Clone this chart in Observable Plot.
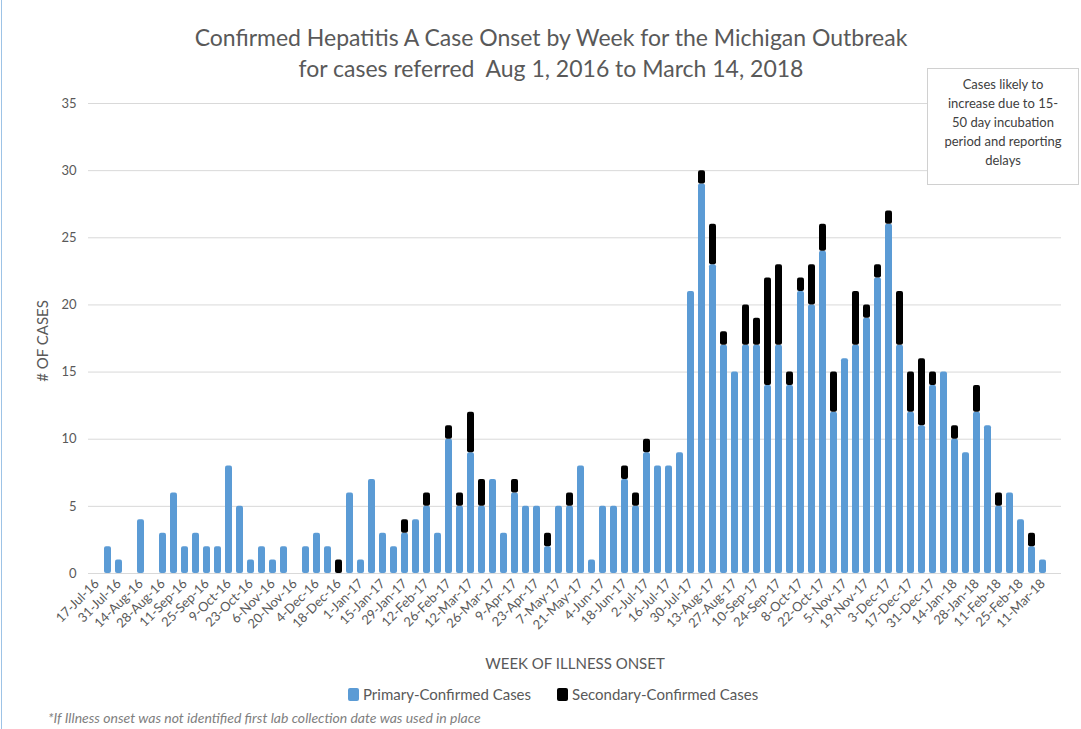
<!DOCTYPE html>
<html><head><meta charset="utf-8">
<script src="https://cdn.jsdelivr.net/npm/d3@7"></script>
<script src="https://cdn.jsdelivr.net/npm/@observablehq/plot@0.6"></script>
<style>
body{margin:0;background:#fff;font-family:Lato,"Open Sans",sans-serif;color:#595959}
#wrap{position:relative;width:1081px;height:729px;overflow:hidden;background:#fff}
#border{position:absolute;left:1px;top:0;width:1px;height:729px;background:#9dc3e6}
#chart{position:absolute;left:0;top:0}
#title{position:absolute;left:0;width:1102px;top:22px;text-align:center;font-size:23px;line-height:31px;color:#595959}
#note{position:absolute;left:927px;top:68px;width:152px;height:117px;border:1px solid #d0d0d0;box-sizing:border-box;background:#fff;text-align:center;font-size:13px;line-height:19px;padding-top:6px;color:#404040}
#ylab{position:absolute;left:42px;top:341px;transform:translate(-50%,-50%) rotate(-90deg);font-size:15px;white-space:nowrap}
#xlab{position:absolute;left:575px;top:654px;transform:translateX(-50%);font-size:15px;white-space:nowrap}
#legend{position:absolute;left:348px;top:685px;font-size:15px;white-space:nowrap;display:flex;align-items:center}
#legend span.sw{display:inline-block;width:11px;height:13px;border-radius:2px;margin-right:4px}
#legend span.it{display:inline-flex;align-items:center;margin-right:26px}
#foot{position:absolute;left:48px;top:709px;font-size:14px;font-style:italic;color:#7f7f7f;white-space:nowrap}
</style></head>
<body><div id="wrap">
<div id="border"></div>
<div id="chart"></div>
<div id="title">Confirmed Hepatitis A Case Onset by Week for the Michigan Outbreak<br>for cases referred&nbsp; Aug 1, 2016 to March 14, 2018</div>
<div id="note">Cases likely to<br>increase due to 15-<br>50 day incubation<br>period and reporting<br>delays</div>
<div id="ylab"># OF CASES</div>
<div id="xlab">WEEK OF ILLNESS ONSET</div>
<div id="legend"></div>
<div id="foot">*If Illness onset was not identified first lab collection date was used in place</div>
</div>
<script>
// Weekly counts, 17-Jul-16 .. 11-Mar-18 (87 weeks)
const primary = [
  0,2,1,0,4,0,3,6,2,3,
  2,2,8,5,1,2,1,2,0,2,
  3,2,0,6,1,7,3,2,3,4,
  5,3,10,5,9,5,7,3,6,5,
  5,2,5,5,8,1,5,5,7,5,
  9,8,8,9,21,29,23,17,15,17,
  17,14,17,14,21,20,24,12,16,17,
  19,22,26,17,12,11,14,15,10,9,
  12,11,5,6,4,2,1
];
const secondary = [
  0,0,0,0,0,0,0,0,0,0,
  0,0,0,0,0,0,0,0,0,0,
  0,0,1,0,0,0,0,0,1,0,
  1,0,1,1,3,2,0,0,1,0,
  0,1,0,1,0,0,0,0,1,1,
  1,0,0,0,0,1,3,1,0,3,
  2,8,6,1,1,3,2,3,0,4,
  1,1,1,4,3,5,1,0,1,0,
  2,0,1,0,0,1,0
];
const tickLabels = ["17-Jul-16","31-Jul-16","14-Aug-16","28-Aug-16","11-Sep-16","25-Sep-16","9-Oct-16","23-Oct-16","6-Nov-16","20-Nov-16","4-Dec-16","18-Dec-16","1-Jan-17","15-Jan-17","29-Jan-17","12-Feb-17","26-Feb-17","12-Mar-17","26-Mar-17","9-Apr-17","23-Apr-17","7-May-17","21-May-17","4-Jun-17","18-Jun-17","2-Jul-17","16-Jul-17","30-Jul-17","13-Aug-17","27-Aug-17","10-Sep-17","24-Sep-17","8-Oct-17","22-Oct-17","5-Nov-17","19-Nov-17","3-Dec-17","17-Dec-17","31-Dec-17","14-Jan-18","28-Jan-18","11-Feb-18","25-Feb-18","11-Mar-18"];
const seriesNames = ["Primary-Confirmed Cases","Secondary-Confirmed Cases"];
const seriesColors = ["#5b9bd5","#000000"];
const yTicks = [0,5,10,15,20,25,30,35];

const fmt = d3.utcFormat("%-d-%b-%y");
const start = new Date(Date.UTC(2016,6,17));
const weeks = primary.map((_, k) => fmt(d3.utcDay.offset(start, 7*k)));

const data = weeks.flatMap((w,i)=>[
  {week:w, type:seriesNames[0], n:primary[i]},
  {week:w, type:seriesNames[1], n:secondary[i]}
]);

const chart = Plot.plot({
  width:1081, height:650,
  marginLeft:85, marginRight:26, marginTop:103, marginBottom:77,
  style:{fontFamily:"Lato, 'Open Sans', sans-serif", fontSize:"13px", color:"#595959", background:"transparent"},
  x:{type:"band", domain:weeks, padding:0.35, label:null, ticks:tickLabels, tickSize:0, tickPadding:8, tickRotate:-45},
  y:{domain:[0,35], label:null, ticks:yTicks, tickSize:0, tickPadding:9},
  color:{domain:seriesNames, range:seriesColors},
  marks:[
    Plot.ruleY(yTicks, {stroke:"#d9d9d9", strokeWidth:1, insetLeft:3, insetRight:-6}),
    Plot.barY(data, {x:"week", y:"n", fill:"type", rx:2})
  ]
});
document.getElementById("chart").appendChild(chart);

const lg = d3.select("#legend");
seriesNames.forEach((s,i)=>{
  const it = lg.append("span").attr("class","it");
  it.append("span").attr("class","sw").style("background",seriesColors[i]);
  it.append("span").text(s);
});
</script>
</body></html>
